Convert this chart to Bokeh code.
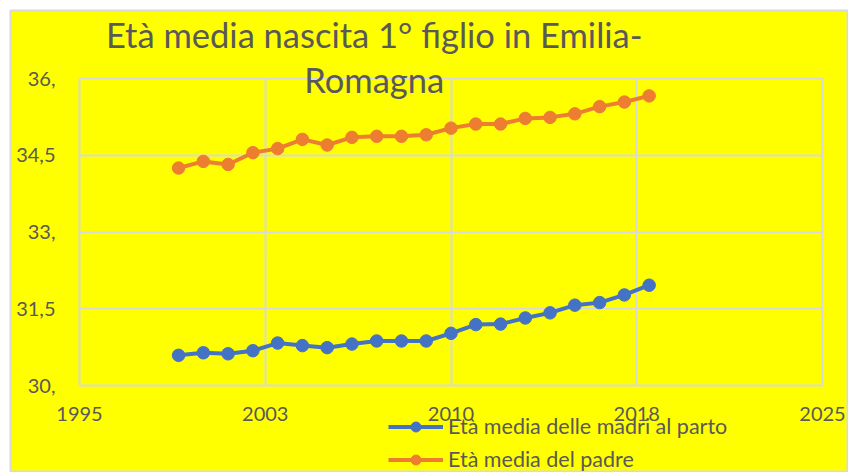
from bokeh.plotting import figure
from bokeh.models import Range1d, FixedTicker, Legend, LegendItem, Label, Grid
from bokeh.embed import file_html
from bokeh.resources import INLINE

# ---- data ----
years = list(range(1999, 2019))
madri = [30.59, 30.64, 30.62, 30.68, 30.83, 30.78, 30.74, 30.81, 30.87, 30.87,
         30.87, 31.02, 31.19, 31.20, 31.32, 31.42, 31.57, 31.62, 31.77, 31.96]
padri = [34.25, 34.38, 34.32, 34.55, 34.63, 34.81, 34.70, 34.85, 34.87, 34.87,
         34.90, 35.03, 35.11, 35.11, 35.22, 35.24, 35.31, 35.45, 35.54, 35.66]
x_ticks = [1995, 2002.5, 2010, 2017.5, 2025]
x_tick_labels = ["1995", "2003", "2010", "2018", "2025"]
y_ticks = [30, 31.5, 33, 34.5, 36]
y_tick_labels = ["30,", "31,5", "33,", "34,5", "36,"]
title_lines = ["Età media nascita 1° figlio in Emilia-", "Romagna"]
series_names = ["Età media delle madri al parto", "Età media del padre"]

YELLOW = "#FFFF00"
GREY_TXT = "#595959"
GRID = "#d9d9d9"
BLUE = "#4472C4"
ORANGE = "#ED7D31"
FONT = "Lato"

# plot area [1995..2025] x [30..36]; the frame also holds title and legend
X0, X1 = x_ticks[0], x_ticks[-1]
Y0, Y1 = y_ticks[0], y_ticks[-1]

p = figure(width=848, height=472, output_backend="svg", toolbar_location=None,
           x_range=Range1d(1992.214, 2026.049), y_range=Range1d(28.300, 37.329),
           title=None, min_border=0, min_border_left=10, min_border_top=10,
           min_border_right=0, min_border_bottom=0)
p.background_fill_color = YELLOW
p.border_fill_color = "white"
p.outline_line_color = GRID
p.outline_line_width = 2

p.xaxis.fixed_location = Y0
p.yaxis.fixed_location = X0
for ax in (p.xaxis[0], p.yaxis[0]):
    ax.axis_line_color = None
    ax.major_tick_line_color = None
    ax.minor_tick_line_color = None
    ax.major_tick_out = 0
    ax.major_tick_in = 0
    ax.minor_tick_out = 0
    ax.minor_tick_in = 0
    ax.major_label_text_color = GREY_TXT
    ax.major_label_text_font = FONT
    ax.major_label_text_font_size = "20px"

p.xaxis.ticker = FixedTicker(ticks=x_ticks)
p.xaxis.major_label_overrides = {t: l for t, l in zip(x_ticks, x_tick_labels)}
p.xaxis.major_label_standoff = 21
p.yaxis.ticker = FixedTicker(ticks=y_ticks)
p.yaxis.major_label_overrides = {t: l for t, l in zip(y_ticks, y_tick_labels)}
p.yaxis.major_label_standoff = 24

p.xgrid.ticker = FixedTicker(ticks=x_ticks)
p.ygrid.ticker = FixedTicker(ticks=y_ticks)
if "cross_bounds" in Grid.properties():
    p.xgrid[0].cross_bounds = (Y0, Y1)
    p.ygrid[0].cross_bounds = (X0, X1)
    for g in (p.xgrid[0], p.ygrid[0]):
        g.grid_line_color = GRID
        g.grid_line_width = 2
else:
    for g in (p.xgrid[0], p.ygrid[0]):
        g.grid_line_color = None
    p.segment(x0=x_ticks, x1=x_ticks, y0=[Y0] * len(x_ticks), y1=[Y1] * len(x_ticks),
              line_color=GRID, line_width=2, level="underlay")
    p.segment(x0=[X0] * len(y_ticks), x1=[X1] * len(y_ticks), y0=y_ticks, y1=y_ticks,
              line_color=GRID, line_width=2, level="underlay")

items = []
for vals, col, name in [(madri, BLUE, series_names[0]), (padri, ORANGE, series_names[1])]:
    l = p.line(years, vals, line_color=col, line_width=4)
    s = p.scatter(years, vals, size=12.5, fill_color=col, line_color=col)
    items.append(LegendItem(label=name, renderers=[l, s]))

legend = Legend(items=items, location=(378, 0), orientation="vertical",
                background_fill_alpha=0, border_line_color=None, padding=0,
                margin=0, glyph_width=55, glyph_height=25, spacing=7,
                label_standoff=5, label_text_font=FONT,
                label_text_font_size="21.5px", label_text_color=GREY_TXT)
p.add_layout(legend, "center")

p.add_layout(Label(x=2006.9, y=36.86, text=title_lines[0], text_align="center",
                   text_baseline="alphabetic", text_font=FONT,
                   text_font_size="34.5px", text_color=GREY_TXT))
p.add_layout(Label(x=2006.9, y=35.98, text=title_lines[1], text_align="center",
                   text_baseline="alphabetic", text_font=FONT,
                   text_font_size="34.5px", text_color=GREY_TXT))

open("out.html", "w").write(file_html(p, INLINE))
